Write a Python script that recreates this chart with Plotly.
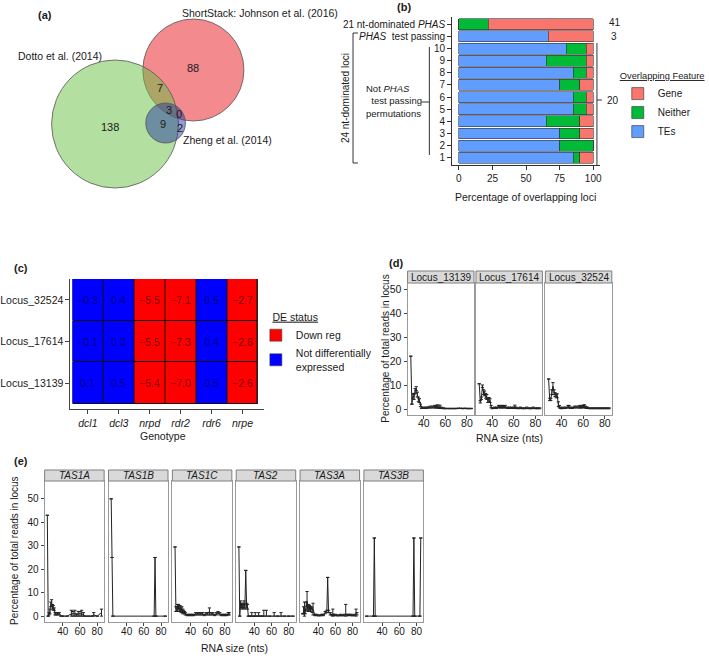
import plotly.graph_objects as go

W, H = 709, 656
FONT = "Liberation Sans, Arial, sans-serif"
INK = "#1a1a1a"

# ======================= DATA =======================
# (a) Venn diagram
VENN_SET_NAMES = ["ShortStack: Johnson et al. (2016)", "Dotto et al. (2014)", "Zheng et al. (2014)"]
# regions: S only, S&D, S&D&Z, S&Z, D&Z, Z only, D only
VENN_REGION_COUNTS = [88, 7, 3, 0, 9, 2, 138]

# (b) overlapping features (percent of loci)
B_CATEGORIES = ["21 nt-dominated <i>PHAS</i>", "<i>PHAS</i>  test passing",
                "10", "9", "8", "7", "6", "5", "4", "3", "2", "1"]
B_TES = [0, 66.7, 80, 65, 85, 75, 85, 85, 65, 75, 75, 85]
B_NEITHER = [22, 0, 15, 30, 10, 15, 10, 10, 25, 15, 25, 5]
B_GENE = [78, 33.3, 5, 5, 5, 10, 5, 5, 10, 10, 0, 10]
B_GROUP_COUNTS = [41, 3, 20]
B_XTICKS = [0, 25, 50, 75, 100]

# (c) heatmap: log2 fold change per genotype
C_GENOTYPES = ["dcl1", "dcl3", "nrpd", "rdr2", "rdr6", "nrpe"]
C_LOCI = ["Locus_13139", "Locus_17614", "Locus_32524"]
C_LFC_13139 = [0.1, 0.5, -5.4, -7.0, 0.5, -2.6]
C_LFC_17614 = [-0.1, 0.3, -5.5, -7.3, 0.4, -2.6]
C_LFC_32524 = [-0.3, 0.4, -5.5, -7.1, 0.5, -2.7]
C_DOWN_REG = [False, False, True, True, False, True]
C_STATUS_NAMES = ["Down reg", "Not differentially<br>expressed"]

# (d) size profiles of three loci: x = RNA size, mean %, error
D_NAMES = ["Locus_13139", "Locus_17614", "Locus_32524"]
D1_X = [28, 29, 30, 31, 32, 33, 34, 35, 36, 37, 38,
        40, 42, 44, 46, 48, 50, 51, 52, 53, 54, 55, 56, 58,
        60, 62, 64, 66, 68, 70, 72, 74, 76, 78, 80, 82, 84]
D1_Y = [22, 2, 5.5, 5, 7.5, 8.5, 6, 4, 3.5, 1.5, 0.5,
        0.5, 0.5, 0.6, 0.8, 0.8, 1, 0.8, 1, 1.2, 0.5, 1, 0.5, 0.3,
        0.2, 0.2, 0.2, 0.2, 0.2, 0.2, 0.3, 0.3, 0.2, 0.3, 0.2, 0.2, 0.2]
D1_E = [0, 0, 1, 1, 1, 0.8, 1, 1, 0.8, 0.5, 0.3,
        0.3, 0.3, 0.3, 0.4, 0.4, 0.5, 0.4, 0.6, 0.5, 0.3, 0.6, 0.3, 0.2,
        0.1, 0.1, 0.1, 0.1, 0.1, 0.1, 0.1, 0.1, 0.1, 0.1, 0.1, 0.1, 0.1]
D2_X = [28, 29, 30, 31, 32, 33, 34, 35, 36, 37, 38, 39, 40,
        42, 44, 46, 47, 48, 49, 50, 51, 52, 54, 56, 58,
        60, 61, 62, 64, 66, 68, 70, 72, 74, 76, 78, 80, 82, 84]
D2_Y = [10.5, 3, 4.5, 9.5, 7, 6.5, 5.5, 5, 3.5, 4, 3.5, 1, 0.3,
        0.5, 0.5, 1, 1, 0.8, 1, 1, 0.8, 1, 0.5, 0.5, 0.5,
        0.5, 1, 0.5, 0.3, 0.5, 0.3, 0.3, 0.5, 0.3, 0.3, 0.5, 0.3, 0.3, 0.3]
D2_E = [0, 0.5, 0.5, 0.5, 1, 1, 1, 1, 0.8, 0.8, 0.8, 0.5, 0.2,
        0.3, 0.3, 0.5, 0.5, 0.4, 0.5, 0.5, 0.4, 0.5, 0.3, 0.3, 0.3,
        0.3, 0.6, 0.3, 0.2, 0.3, 0.2, 0.2, 0.3, 0.2, 0.2, 0.3, 0.2, 0.2, 0.2]
D3_X = [28, 29, 30, 31, 32, 33, 34, 35, 36, 37, 38, 39, 40,
        42, 44, 46, 47, 48, 50, 52, 54, 56, 57, 58, 59,
        60, 61, 62, 63, 64, 66, 68, 70, 72, 74, 76, 78, 80, 82, 84]
D3_Y = [12.5, 4, 4, 7, 9.5, 7, 6, 5.5, 5.5, 2, 1, 0.5, 0.3,
        0.5, 0.5, 1, 1, 0.5, 0.5, 0.8, 0.8, 0.8, 1, 0.8, 1,
        1, 1.2, 0.8, 0.5, 0.5, 0.3, 0.3, 0.3, 0.3, 0.3, 0.3, 0.3, 0.3, 0.3, 0.3]
D3_E = [0, 0.5, 0.5, 1, 1.5, 1, 0.8, 0.8, 0.8, 1, 0.5, 0.3, 0.2,
        0.3, 0.3, 0.5, 0.5, 0.3, 0.3, 0.4, 0.4, 0.4, 0.5, 0.4, 0.5,
        0.5, 0.6, 0.4, 0.3, 0.3, 0.2, 0.2, 0.2, 0.2, 0.2, 0.2, 0.2, 0.2, 0.2, 0.2]
D_YTICKS = [0, 10, 20, 30, 40, 50]
D_XTICKS = [40, 60, 80]

# (e) size profiles of TAS loci
E_NAMES = ["TAS1A", "TAS1B", "TAS1C", "TAS2", "TAS3A", "TAS3B"]
TAS1A_X = [22, 23, 24, 25, 26, 27, 28, 29, 30, 31, 32, 34, 36, 38, 40, 45,
           50, 52, 54, 56, 58, 60, 62, 64, 66, 70, 74, 76, 80, 85]
TAS1A_Y = [43, 0, 1, 2, 5, 5.5, 4, 3.5, 3, 1, 1, 1, 1, 0, 0, 0,
           1, 1, 1, 0.5, 1, 1, 1, 0.5, 0, 0, 0, 0.5, 0, 1.5]
TAS1A_E = [0, 0, 0.5, 1, 1, 1.5, 1, 1, 0.5, 0.5, 0.5, 0.5, 0.5, 0, 0, 0,
           1.5, 1, 1.5, 0.5, 1, 1, 1.5, 1, 0, 0, 0, 1, 0, 1.5]
TAS1B_X = [22, 23, 24, 72, 73, 74, 85]
TAS1B_Y = [50, 25, 0, 0, 25, 0, 0]
TAS1B_E = [0, 0, 0, 0, 0, 0, 0]
TAS1C_X = [22, 23, 24, 25, 26, 27, 28, 29, 30, 31, 32, 33, 34,
           36, 38, 40, 42, 44, 46, 48, 50, 52, 54, 56, 58, 60, 62, 64, 66, 68, 70, 72, 74, 76, 78, 80, 82, 84,
           85]
TAS1C_Y = [29.5, 3, 3, 3.5, 4, 3, 3.5, 2.5, 3, 2, 2, 1.5, 1,
           0.5, 0.5, 0.5, 0.5, 0.5, 1, 1, 1, 1, 1, 0.5, 1, 1, 2, 1, 1, 0.5, 1, 1.5, 1, 0.5, 0.5, 0.5, 0.5, 1,
           1]
TAS1C_E = [0, 1, 1, 1.5, 1, 1, 1, 1, 1, 1, 0.5, 0.5, 0.5,
           0.3, 0.3, 0.3, 0.3, 0.3, 0.5, 0.5, 0.5, 0.5, 0.5, 0.3, 0.5, 0.5, 1.5, 0.5, 0.5, 0.3, 0.5, 0.5, 0.5, 0.3, 0.3, 0.3, 0.3, 0.5,
           0.5]
TAS2_X = [22, 23, 24, 25, 26, 27, 28, 29, 30, 31, 32, 33,
          35, 37, 39, 41, 43, 45, 47, 49, 51, 54, 58, 63, 67, 71, 75, 80, 85]
TAS2_Y = [29.5, 0, 5, 4.5, 4, 4.5, 5, 4, 19.5, 4.5, 4, 0,
          0, 0, 0, 0, 0, 0, 0, 0, 0, 0, 0, 0, 0, 0, 0, 0, 0]
TAS2_E = [0, 0, 1.5, 1, 1, 1, 1.5, 1, 0, 1, 1, 0,
          0, 1.5, 0, 1.5, 0, 1.5, 0, 0, 2.5, 2.5, 0, 1.5, 0, 1.5, 0, 0, 0]
TAS3A_X = [22, 23, 24, 25, 26, 27, 28, 29, 30, 31, 32, 33, 34,
           36, 38, 40, 42, 44, 46, 48, 50, 51, 52, 54, 56, 57, 58,
           60, 62, 64, 66, 68, 70, 72, 74, 76, 78, 80, 82, 84, 85]
TAS3A_Y = [1, 2.5, 3, 2, 5, 6.5, 3, 4, 3.5, 3, 3.5, 2.5, 3,
           0.5, 0.5, 0.3, 0.3, 0.5, 0.5, 1.5, 2, 16.5, 2, 1, 0.5, 1, 0.5,
           0.5, 0.3, 0.3, 0.5, 0.3, 0.5, 1, 0.5, 0.5, 0.5, 0.3, 0.5, 1, 1]
TAS3A_E = [0, 1.5, 3, 1, 1, 4, 1, 1, 1, 1, 0.5, 1, 2.5,
           0.3, 0.3, 0.2, 0.2, 0.3, 0.3, 0.5, 0.5, 0, 0.5, 0.5, 0.3, 2, 0.3,
           0.3, 0.2, 0.2, 0.3, 0.2, 0.3, 4, 0.3, 0.3, 0.3, 0.2, 0.3, 2, 0.5]
TAS3B_X = [22, 30, 31, 32, 76, 77, 78, 84, 85]
TAS3B_Y = [0, 0, 33.3, 0, 0, 33.3, 0, 0, 33.3]
TAS3B_E = [0, 0, 0, 0, 0, 0, 0, 0, 0]
E_YTICKS = [0, 10, 20, 30, 40, 50]
E_XTICKS = [40, 60, 80]

# ======================= LAYOUT HELPERS =======================
def X(p):
    return p / W


def Y(p):
    return 1 - p / H


def dom_x(a, b):
    return [a / W, b / W]


def dom_y(top, bottom):
    return [1 - bottom / H, 1 - top / H]


fig = go.Figure()
shapes = []
annotations = []
NB = "\u00a0"


def note(text, x, y, size=10, xanchor="center", yanchor="middle", ref="paper", **kw):
    d = dict(text=text, showarrow=False, font=dict(size=size, color=INK, family=FONT),
             xanchor=xanchor, yanchor=yanchor)
    if ref == "paper":
        d.update(x=X(x), y=Y(y), xref="paper", yref="paper")
    else:
        d.update(x=x, y=y, xref=ref[0], yref=ref[1])
    d.update(kw)
    annotations.append(d)


def pline(x0, y0, x1, y1, color="#333", width=1):
    shapes.append(dict(type="line", xref="paper", yref="paper", x0=X(x0), y0=Y(y0),
                       x1=X(x1), y1=Y(y1), line=dict(color=color, width=width)))


layout = dict(width=W, height=H, margin=dict(l=0, r=0, t=0, b=0),
              paper_bgcolor="white", plot_bgcolor="white",
              font=dict(family=FONT, size=10, color=INK), barmode="stack")

# ======================= (a) VENN =======================
layout["xaxis"] = dict(domain=dom_x(0, 260), range=[0, 260], visible=False, anchor="y")
layout["yaxis"] = dict(domain=dom_y(0, 260), range=[260, 0], visible=False, anchor="x")
venn_circles = [  # (cx, cy, r, fill) in pixel-like venn coordinates
    (191, 70, 51, "rgba(229,21,29,0.5)"),
    (112, 124, 64, "rgba(103,191,65,0.5)"),
    (163, 123, 20, "rgba(40,60,160,0.5)"),
]
for cx, cy, r, col in venn_circles:
    shapes.append(dict(type="circle", xref="x", yref="y", x0=cx - r, x1=cx + r, y0=cy - r, y1=cy + r,
                       fillcolor=col, line=dict(color="#555", width=0.8)))
venn_region_pos = [(191, 68), (157, 88), (166, 110), (176, 114), (160, 124), (178, 128), (107, 127)]
for cnt, (vx, vy) in zip(VENN_REGION_COUNTS, venn_region_pos):
    note(str(cnt), vx, vy, size=11, ref=("x", "y"))
note(VENN_SET_NAMES[0], 178, 13, size=10.5, xanchor="left", ref=("x", "y"))
note(VENN_SET_NAMES[1], 12, 56, size=10.5, xanchor="left", ref=("x", "y"))
note(VENN_SET_NAMES[2], 179, 140, size=10.5, xanchor="left", ref=("x", "y"))

# ======================= (b) BARS =======================
axis_b = dict(showline=True, linecolor="#333", linewidth=1, ticks="outside", ticklen=4,
              tickcolor="#333", showgrid=False, zeroline=False, tickfont=dict(size=10, color=INK))
layout["xaxis2"] = dict(domain=dom_x(452, 601), range=[-5, 105], tickvals=B_XTICKS, anchor="y2", **axis_b)
layout["yaxis2"] = dict(domain=dom_y(17, 165), type="category", categoryorder="array",
                        categoryarray=B_CATEGORIES, range=[11.6, -0.6], anchor="x2", **axis_b)
for name, vals, col, rank in [("TEs", B_TES, "#619CFF", 3), ("Neither", B_NEITHER, "#00BA38", 2),
                              ("Gene", B_GENE, "#F8766D", 1)]:
    fig.add_trace(go.Bar(y=B_CATEGORIES, x=vals, orientation="h", name=name, width=0.9,
                         marker=dict(color=col, line=dict(color="#333", width=0.6)),
                         xaxis="x2", yaxis="y2", legend="legend", legendrank=rank,
                         hoverinfo="skip"))
layout["legend"] = dict(x=X(619), y=Y(67), xanchor="left", yanchor="top",
                        title=dict(text="<u>Overlapping Feature</u>", font=dict(size=9.3)),
                        font=dict(size=10), bgcolor="rgba(0,0,0,0)", traceorder="normal",
                        tracegroupgap=0, itemclick=False, itemdoubleclick=False)
note("<b>(b)</b>", 403, 7, size=11)
note("Percentage of overlapping loci", 526, 197, size=10.5)
note(str(B_GROUP_COUNTS[0]), 608, 23, xanchor="left")
note(str(B_GROUP_COUNTS[1]), 610, 36, xanchor="left")
note(str(B_GROUP_COUNTS[2]), 606, 100, xanchor="left")
# right bracket (20 permutations)
pline(598, 43, 598, 165)
pline(598, 100, 603, 100)
# left bracket: 24 nt-dominated loci
pline(352, 33, 352, 163)
pline(352, 33, 357, 33)
pline(352, 163, 357, 163)
note("24 nt-dominated loci", 344, 98, size=10, textangle=-90)
# inner bracket: not PHAS permutations
pline(429, 47, 429, 155)
pline(421, 102, 429, 102)
note("Not <i>PHAS</i><br>" + NB + NB + "test passing<br>permutations", 363, 101, size=9.5,
     xanchor="left", align="left")

# ======================= (c) HEATMAP =======================
c_rows = [C_LFC_13139, C_LFC_17614, C_LFC_32524]
c_z = [[1 if d else 0 for d in C_DOWN_REG] for _ in c_rows]
c_text = [[("%.1f" % v).replace("-", "\u2212") for v in row] for row in c_rows]
shapes.append(dict(type="rect", xref="x3", yref="y3", x0=-0.5, x1=5.5, y0=-0.5, y1=2.5,
                   fillcolor="#111", line=dict(width=0), layer="below"))
fig.add_trace(go.Heatmap(x=C_GENOTYPES, y=C_LOCI, z=c_z, zmin=0, zmax=1,
                         colorscale=[[0, "#0000FF"], [1, "#FF0000"]], showscale=False,
                         xgap=1, ygap=1, text=c_text, texttemplate="%{text}",
                         textfont=dict(size=10.5, color="rgba(0,0,0,0.55)", family=FONT),
                         xaxis="x3", yaxis="y3", hoverinfo="skip"))
axis_c = dict(showline=True, linecolor="#444", linewidth=1, ticks="outside", ticklen=4,
              tickcolor="#444", showgrid=False, zeroline=False, tickfont=dict(size=10.5, color=INK))
layout["xaxis3"] = dict(domain=dom_x(67, 262), range=[-0.565, 5.69], anchor="y3",
                        tickvals=C_GENOTYPES, ticktext=["<i>%s</i>" % g for g in C_GENOTYPES], **axis_c)
layout["yaxis3"] = dict(domain=dom_y(279, 409), range=[-0.62, 2.5], anchor="x3", **axis_c)
for name, col in zip(C_STATUS_NAMES, ["#FF0000", "#0000FF"]):
    fig.add_trace(go.Bar(x=[None], y=[None], name=name, marker=dict(color=col, line=dict(color="#333", width=0.5)),
                         xaxis="x3", yaxis="y3", legend="legend2", hoverinfo="skip"))
layout["legend2"] = dict(x=X(254), y=Y(307), xanchor="left", yanchor="top",
                         title=dict(text=NB * 5 + "<u>DE status</u>", font=dict(size=10.5)),
                         font=dict(size=10.5), bgcolor="rgba(0,0,0,0)", traceorder="normal",
                         itemclick=False, itemdoubleclick=False)
note("<b>(c)</b>", 17, 268, size=11)
note("Genotype", 160, 436, size=10.5)

# ======================= (d) FACETS =======================
frame = dict(showline=True, mirror=True, linecolor="#9a9a9a", linewidth=1, showgrid=False,
             zeroline=False, ticks="outside", ticklen=3, tickcolor="#444",
             tickfont=dict(size=10.5, color=INK))
d_series = [(D1_X, D1_Y, D1_E), (D2_X, D2_Y, D2_E), (D3_X, D3_Y, D3_E)]
d_cols = [(407, 474), (476, 543), (546, 613)]
D_TOP, D_BOT = 283, 415


def add_profile(xs, ys, es, xa, ya):
    fig.add_trace(go.Scatter(x=xs, y=ys, mode="lines", line=dict(color="#222", width=1),
                             error_y=dict(type="data", array=es,
                                          arrayminus=[min(e, v) for e, v in zip(es, ys)],
                                          color="#222", thickness=1, width=1.6),
                             xaxis=xa, yaxis=ya, showlegend=False, hoverinfo="skip"))


for i, ((xs, ys, es), (a, b)) in enumerate(zip(d_series, d_cols)):
    n = 4 + i
    xa, ya = "x%d" % n, "y%d" % n
    add_profile(xs, ys, es, xa, ya)
    layout["xaxis%d" % n] = dict(domain=dom_x(a, b), range=[25, 86.5], tickvals=D_XTICKS,
                                 anchor=ya, ticklabelstandoff=-5, **frame)
    yd = dict(domain=dom_y(D_TOP, D_BOT), range=[-2.5, 52.5], tickvals=D_YTICKS, anchor=xa, **frame)
    if i > 0:
        yd.update(showticklabels=False, ticks="")
    layout["yaxis%d" % n] = yd
    shapes.append(dict(type="rect", xref="paper", yref="paper", x0=X(a), x1=X(b), y0=Y(D_TOP), y1=Y(271),
                       fillcolor="#d9d9d9", line=dict(color="#7f7f7f", width=1)))
    note(D_NAMES[i], (a + b) / 2, 277.5, size=10)
note("<b>(d)</b>", 395, 263, size=11)
note("RNA size (nts)", 510, 438, size=10.5)
note("Percentage of total reads in locus", 384, 349, size=10, textangle=-90)

# ======================= (e) FACETS =======================
e_series = [(TAS1A_X, TAS1A_Y, TAS1A_E), (TAS1B_X, TAS1B_Y, TAS1B_E), (TAS1C_X, TAS1C_Y, TAS1C_E),
            (TAS2_X, TAS2_Y, TAS2_E), (TAS3A_X, TAS3A_Y, TAS3A_E), (TAS3B_X, TAS3B_Y, TAS3B_E)]
E_TOP, E_BOT = 481, 622
frame_e = dict(frame)
frame_e["tickfont"] = dict(size=10, color=INK)
for i, (xs, ys, es) in enumerate(e_series):
    n = 7 + i
    a = 41 + i * 64.4
    b = a + 60
    xa, ya = "x%d" % n, "y%d" % n
    add_profile(xs, ys, es, xa, ya)
    layout["xaxis%d" % n] = dict(domain=dom_x(a, b), range=[18.9, 88.1], tickvals=E_XTICKS,
                                 anchor=ya, ticklabelstandoff=-3, **frame_e)
    yd = dict(domain=dom_y(E_TOP, E_BOT), range=[-2.5, 57.6], tickvals=E_YTICKS, anchor=xa, **frame_e)
    if i > 0:
        yd.update(showticklabels=False, ticks="")
    layout["yaxis%d" % n] = yd
    shapes.append(dict(type="rect", xref="paper", yref="paper", x0=X(a), x1=X(b), y0=Y(E_TOP), y1=Y(470),
                       fillcolor="#d9d9d9", line=dict(color="#7f7f7f", width=1)))
    note("<i>%s</i>" % E_NAMES[i], (a + b) / 2, 475.5, size=10)
note("<b>(e)</b>", 17, 461, size=11)
note("RNA size (nts)", 232, 648, size=10.5)
note("Percentage of total reads in locus", 10, 551, size=10, textangle=-90)

note("<b>(a)</b>", 41, 15, size=11)

layout["shapes"] = shapes
layout["annotations"] = annotations
fig.update_layout(**layout)
fig.write_html("out.html", config={"displayModeBar": False},
               post_script="document.body.style.margin='0px';document.body.style.overflow='hidden';")
